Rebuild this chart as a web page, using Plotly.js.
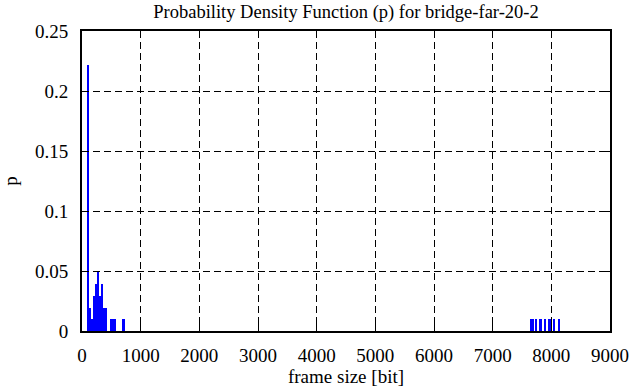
<!DOCTYPE html>
<html>
<head>
<meta charset="utf-8">
<script src="https://cdn.plot.ly/plotly-3.0.1.min.js"></script>
<style>
html,body{margin:0;padding:0;background:#fff;}
#chart{width:631px;height:387px;}
</style>
</head>
<body>
<div id="chart"></div>
<script>
// frame size bin centres [bit]
const frameSize = [97, 131, 165, 199, 233, 267, 301, 335, 369, 403, 503, 554, 708,
                   7647, 7681, 7738, 7815, 7886, 7968, 8051, 8136];
// probability per bin
const prob = [0.222, 0.019, 0.0097, 0.029, 0.039, 0.049, 0.029, 0.039, 0.019, 0.019, 0.0097, 0.0097, 0.0097,
              0.0097, 0.0097, 0.0097, 0.0097, 0.0097, 0.0097, 0.0097, 0.0097];
const xTicks = [0, 1000, 2000, 3000, 4000, 5000, 6000, 7000, 8000, 9000];
const yTicks = [0, 0.05, 0.1, 0.15, 0.2, 0.25];
const yTickText = ['0', '0.05', '0.1', '0.15', '0.2', '0.25'];

const FONT = 'Liberation Serif';

const trace = {
  type: 'bar',
  x: frameSize,
  y: prob,
  width: 36,
  marker: {color: '#0000ff', line: {width: 0}},
  hoverinfo: 'x+y'
};

function axisBase() {
  return {
    showline: true, linecolor: '#000', linewidth: 2, mirror: 'ticks',
    ticks: 'inside', ticklen: 7, tickwidth: 1, tickcolor: '#000',
    showgrid: true, gridcolor: '#000', gridwidth: 1, griddash: '7px,4px',
    zeroline: false,
    tickfont: {family: FONT, size: 19, color: '#000'}
  };
}

const layout = {
  width: 631, height: 387,
  margin: {l: 82, r: 21, t: 31, b: 56, pad: 0},
  paper_bgcolor: '#fff', plot_bgcolor: '#fff',
  showlegend: false,
  font: {family: FONT, color: '#000', size: 19},
  title: {
    text: 'Probability Density Function (p) for bridge-far-20-2',
    font: {family: FONT, size: 18.5, color: '#000'},
    x: 0.5, xref: 'paper', y: 1 - 12/387, yref: 'container', yanchor: 'middle'
  },
  xaxis: Object.assign(axisBase(), {
    range: [0, 9000], tickmode: 'array', tickvals: xTicks, ticktext: xTicks.map(String),
    ticklabelstandoff: 6,
    title: {text: 'frame size [bit]', font: {family: FONT, size: 19, color: '#000'}, standoff: 6}
  }),
  yaxis: Object.assign(axisBase(), {
    range: [0, 0.25], tickmode: 'array', tickvals: yTicks, ticktext: yTickText,
    ticklabelstandoff: 8,
    title: {text: 'p', font: {family: FONT, size: 19, color: '#000'}, standoff: 22}
  }),
  bargap: 0
};

Plotly.newPlot('chart', [trace], layout, {displayModeBar: false, staticPlot: true});
</script>
</body>
</html>
